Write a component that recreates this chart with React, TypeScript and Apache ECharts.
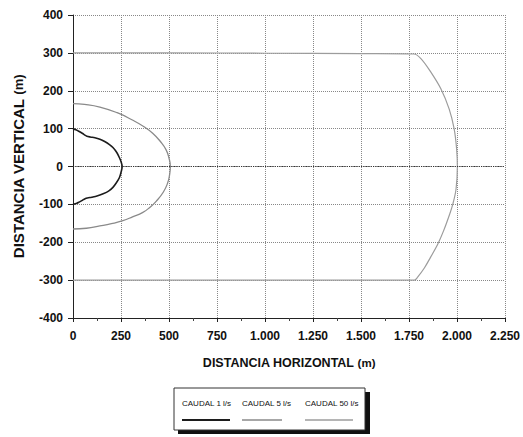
import React, { useEffect, useRef } from "react";
import * as echarts from "echarts";

const xTicks = [0, 250, 500, 750, 1000, 1250, 1500, 1750, 2000, 2250];
const yTicks = [-400, -300, -200, -100, 0, 100, 200, 300, 400];
const seriesNames = ["CAUDAL 1 l/s", "CAUDAL 5 l/s", "CAUDAL 50 l/s"];

// CAUDAL 1 l/s  [x, y]
const caudal1: number[][] = [
  [0, 100], [15, 97], [30, 93], [50, 87], [62, 83], [72, 80], [90, 78], [114, 76],
  [140, 72], [165, 66], [190, 58], [208, 50], [228, 37], [242, 23], [252, 10], [256, 0],
  [252, -12], [242, -29], [226, -43], [208, -55], [185, -65], [157, -72], [125, -78],
  [97, -81], [75, -83], [63, -85], [46, -90], [32, -94], [20, -97], [0, -100],
];

// CAUDAL 5 l/s
const caudal5: number[][] = [
  [0, 166], [60, 164], [140, 157], [230, 142], [312, 122], [370, 105], [415, 88],
  [455, 66], [485, 44], [500, 22], [507, 0], [503, -22], [492, -45], [470, -68],
  [433, -92], [400, -108], [364, -121], [310, -133], [260, -143], [200, -151],
  [140, -157], [70, -163], [0, -165],
];

// CAUDAL 50 l/s
const caudal50: number[][] = [
  [0, 300], [500, 300], [1000, 299], [1500, 298], [1775, 297], [1812, 285], [1864, 249],
  [1916, 205], [1959, 152], [1985, 100], [1998, 47], [2002, 0], [1995, -60], [1978, -100],
  [1959, -130], [1930, -170], [1899, -206], [1862, -240], [1830, -268], [1795, -292],
  [1778, -300], [1500, -300], [1000, -300], [500, -300], [0, -300],
];

const seriesData = [caudal1, caudal5, caudal50];
const seriesColors = ["#1c1c1c", "#8a8a8a", "#9c9c9c"];
const seriesWidths = [1.6, 1.3, 1.2];
const seriesSmooth = [0.3, 0.5, 0.35];

const FONT = "'Liberation Sans', Arial, sans-serif";

function fmtX(v: number): string {
  if (v >= 1000) {
    const th = Math.floor(v / 1000);
    const rest = String(v % 1000).padStart(3, "0");
    return `${th}.${rest}`;
  }
  return String(v);
}

export default function App() {
  const ref = useRef<HTMLDivElement>(null);
  useEffect(() => {
    document.body.style.margin = "0";
    if (!ref.current) return;
    const chart = echarts.init(ref.current, undefined, { renderer: "svg" });

    const legendX = [182, 242, 305];
    const legendLineW = [48, 40, 48];
    const legendGraphics: any[] = [
      { type: "rect", shape: { x: 178, y: 392, width: 192, height: 42 }, style: { fill: "#111" }, silent: true },
      { type: "rect", shape: { x: 174, y: 388, width: 191, height: 42 }, style: { fill: "#fff", stroke: "#333", lineWidth: 1 }, silent: true },
    ];
    seriesNames.forEach((n, i) => {
      legendGraphics.push({
        type: "text",
        x: legendX[i],
        y: 403,
        style: { text: n, fill: "#111", font: `8px ${FONT}`, textVerticalAlign: "middle" },
        silent: true,
      });
      legendGraphics.push({
        type: "line",
        shape: { x1: legendX[i], y1: 420, x2: legendX[i] + legendLineW[i], y2: 420 },
        style: { stroke: seriesColors[i], lineWidth: seriesWidths[i] + 0.3 },
        silent: true,
      });
    });

    chart.setOption({
      animation: false,
      backgroundColor: "#fff",
      grid: { left: 73, right: 15, top: 15, bottom: 119, containLabel: false },
      xAxis: {
        type: "value",
        min: 0,
        max: 2250,
        interval: 250,
        name: "DISTANCIA HORIZONTAL {n|(m)}",
        nameLocation: "middle",
        nameGap: 38,
        nameTextStyle: {
          fontFamily: FONT, fontWeight: "bold", fontSize: 12.5, color: "#111",
          rich: { n: { fontFamily: FONT, fontSize: 11.5, color: "#111" } },
        },
        axisLine: { show: true, onZero: false, lineStyle: { color: "#222", width: 1 } },
        axisTick: { show: true, length: 4, lineStyle: { color: "#222" } },
        minorTick: { show: true, splitNumber: 2, length: 3, lineStyle: { color: "#444" } },
        axisLabel: {
          formatter: (v: number) => fmtX(v),
          fontFamily: FONT, fontWeight: "bold", fontSize: 12, color: "#111", margin: 12,
        },
        splitLine: { show: true, lineStyle: { type: "dotted", color: "#888", width: 1 } },
      },
      yAxis: {
        type: "value",
        min: -400,
        max: 400,
        interval: 100,
        name: "DISTANCIA VERTICAL {n|(m)}",
        nameLocation: "middle",
        nameGap: 47,
        nameRotate: 90,
        nameTextStyle: {
          fontFamily: FONT, fontWeight: "bold", fontSize: 15, color: "#111",
          rich: { n: { fontFamily: FONT, fontSize: 13, color: "#111" } },
        },
        axisLine: { show: true, onZero: false, lineStyle: { color: "#222", width: 1 } },
        axisTick: { show: true, length: 5, lineStyle: { color: "#222" } },
        axisLabel: {
          fontFamily: FONT, fontWeight: "bold", fontSize: 12, color: "#111", margin: 10,
        },
        splitLine: { show: true, lineStyle: { type: "dotted", color: "#888", width: 1 } },
      },
      series: seriesNames.map((n, i) => ({
        name: n,
        type: "line",
        data: seriesData[i],
        showSymbol: false,
        smooth: seriesSmooth[i],
        lineStyle: { color: seriesColors[i], width: seriesWidths[i] },
        itemStyle: { color: seriesColors[i] },
        markLine: i === 0 ? {
          silent: true,
          symbol: "none",
          label: { show: false },
          lineStyle: { type: "dotted", color: "#333", width: 1.2 },
          data: [{ yAxis: 0 }],
        } : undefined,
      })),
      graphic: legendGraphics,
    });
    return () => chart.dispose();
  }, []);
  return <div ref={ref} style={{ width: 523, height: 437 }} />;
}
